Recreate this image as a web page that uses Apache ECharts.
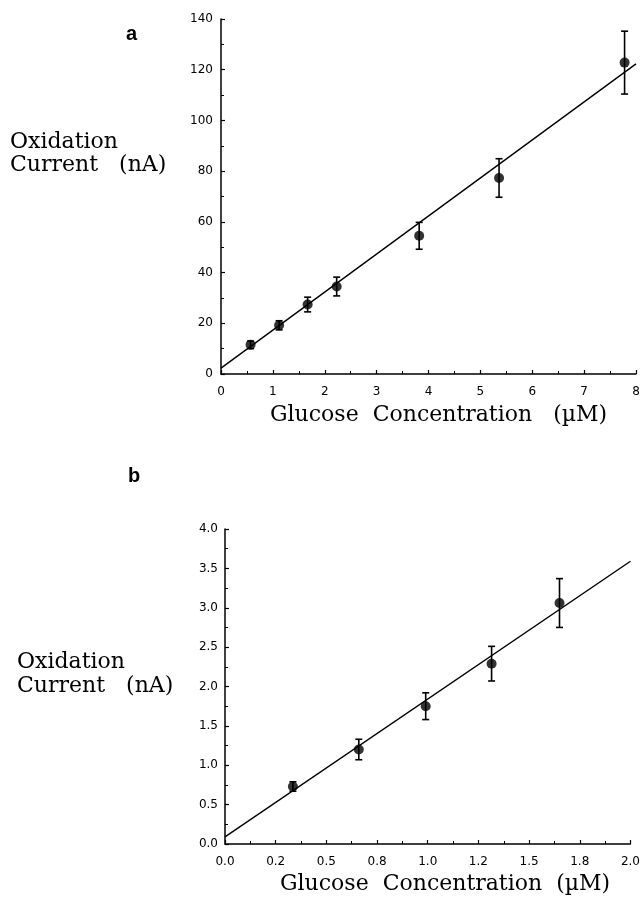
<!DOCTYPE html>
<html lang="en">
<head>
    <meta charset="UTF-8">
    <title>Glucose calibration</title>
    <script src="https://cdn.jsdelivr.net/npm/echarts@6/dist/echarts.min.js"></script>
    <style>
        html, body { margin: 0; padding: 0; background: #fff; }
        #chart { width: 643px; height: 897px; }
    </style>
</head>
<body>
<div id="chart"></div>
<script type="text/javascript">
    // panel a: glucose (uM), current (nA), error (nA)
    var concA = [0.57, 1.12, 1.67, 2.23, 3.82, 5.36, 7.78];
    var currA = [11.5, 19.2, 27.4, 34.5, 54.5, 77.3, 122.8];
    var errA  = [1.5, 1.8, 2.9, 3.7, 5.3, 7.6, 12.4];
    var fitA  = [[0, 2.3], [8, 122.3]];

    // panel b
    var concB = [0.335, 0.66, 0.99, 1.315, 1.65];
    var currB = [0.73, 1.20, 1.75, 2.29, 3.06];
    var errB  = [0.06, 0.13, 0.17, 0.22, 0.31];
    var fitB  = [[0, 0.09], [2, 3.59]];

    var xTicksB = ['0.0', '0.2', '0.5', '0.8', '1.0', '1.2', '1.5', '1.8', '2.0'];

    var serif = '22px "DejaVu Serif"';
    var sans = 'DejaVu Sans';

    function pts(xs, ys) {
        return xs.map(function (x, i) { return [x, ys[i]]; });
    }
    function bars(xs, ys, es) {
        return xs.map(function (x, i) { return [x, ys[i], es[i]]; });
    }

    // error bar with caps
    function errorBar(params, api) {
        var x = api.value(0), y = api.value(1), e = api.value(2);
        var top = api.coord([x, y + e]);
        var bot = api.coord([x, y - e]);
        var cap = 3.5;
        var st = { stroke: '#000', lineWidth: 1.6 };
        return {
            type: 'group',
            children: [
                { type: 'line', shape: { x1: top[0], y1: top[1], x2: bot[0], y2: bot[1] }, style: st },
                { type: 'line', shape: { x1: top[0] - cap, y1: top[1], x2: top[0] + cap, y2: top[1] }, style: st },
                { type: 'line', shape: { x1: bot[0] - cap, y1: bot[1], x2: bot[0] + cap, y2: bot[1] }, style: st }
            ]
        };
    }

    function axisBase(extra) {
        var base = {
            type: 'value',
            axisLine: { show: true, onZero: false, lineStyle: { color: '#000', width: 1.5 } },
            axisTick: { show: true, inside: true, length: 4, lineStyle: { color: '#000', width: 1.2 } },
            minorTick: { show: true, splitNumber: 2, length: 3, lineStyle: { color: '#000', width: 1 } },
            splitLine: { show: false },
            axisLabel: { color: '#000', fontFamily: sans, fontSize: 12 }
        };
        for (var k in extra) base[k] = extra[k];
        return base;
    }

    var chart = echarts.init(document.getElementById('chart'), null, { renderer: 'canvas' });

    var option = {
        animation: false,
        backgroundColor: '#fff',
        grid: [
            { left: 221, top: 19, right: 7, bottom: 523 },
            { left: 225, top: 529, right: 9, bottom: 53 }
        ],
        xAxis: [
            axisBase({
                gridIndex: 0, min: 0, max: 8, interval: 1,
                axisLabel: { color: '#000', fontFamily: sans, fontSize: 12, margin: 12 }
            }),
            axisBase({
                gridIndex: 1, min: 0, max: 2, interval: 0.25,
                axisLabel: {
                    color: '#000', fontFamily: sans, fontSize: 12, margin: 12,
                    formatter: function (v) { return xTicksB[Math.round(v / 0.25)]; }
                }
            })
        ],
        yAxis: [
            axisBase({
                gridIndex: 0, min: 0, max: 140, interval: 20,
                axisLabel: { color: '#000', fontFamily: sans, fontSize: 12, margin: 8 }
            }),
            axisBase({
                gridIndex: 1, min: 0, max: 4, interval: 0.5,
                axisLabel: {
                    color: '#000', fontFamily: sans, fontSize: 12, margin: 7,
                    formatter: function (v) { return v.toFixed(1); }
                }
            })
        ],
        graphic: [
            { type: 'text', left: 126, top: 24, style: { text: 'a', font: 'bold 20px "Liberation Sans"', fill: '#000' } },
            { type: 'text', left: 128, top: 466, style: { text: 'b', font: 'bold 20px "Liberation Sans"', fill: '#000' } },
            { type: 'text', left: 10, top: 131, style: { text: 'Oxidation', font: serif, fill: '#000' } },
            { type: 'text', left: 10, top: 154, style: { text: 'Current   (nA)', font: serif, fill: '#000' } },
            { type: 'text', left: 17, top: 651, style: { text: 'Oxidation', font: serif, fill: '#000' } },
            { type: 'text', left: 17, top: 675, style: { text: 'Current   (nA)', font: serif, fill: '#000' } },
            { type: 'text', left: 270, top: 404, style: { text: 'Glucose  Concentration   (\u00b5M)', font: serif, fill: '#000' } },
            { type: 'text', left: 280, top: 873, style: { text: 'Glucose  Concentration  (\u00b5M)', font: serif, fill: '#000' } }
        ],
        series: [
            {
                type: 'line', xAxisIndex: 0, yAxisIndex: 0, data: fitA,
                showSymbol: false, lineStyle: { color: '#000', width: 1.4 }, silent: true, z: 2
            },
            {
                type: 'custom', xAxisIndex: 0, yAxisIndex: 0, data: bars(concA, currA, errA),
                renderItem: errorBar, z: 3
            },
            {
                type: 'scatter', xAxisIndex: 0, yAxisIndex: 0, data: pts(concA, currA),
                symbol: 'circle', symbolSize: 10, itemStyle: { color: '#000' }, z: 4
            },
            {
                type: 'line', xAxisIndex: 1, yAxisIndex: 1, data: fitB,
                showSymbol: false, lineStyle: { color: '#000', width: 1.4 }, silent: true, z: 2
            },
            {
                type: 'custom', xAxisIndex: 1, yAxisIndex: 1, data: bars(concB, currB, errB),
                renderItem: errorBar, z: 3
            },
            {
                type: 'scatter', xAxisIndex: 1, yAxisIndex: 1, data: pts(concB, currB),
                symbol: 'circle', symbolSize: 10, itemStyle: { color: '#000' }, z: 4
            }
        ]
    };

    chart.setOption(option);
</script>
</body>
</html>
